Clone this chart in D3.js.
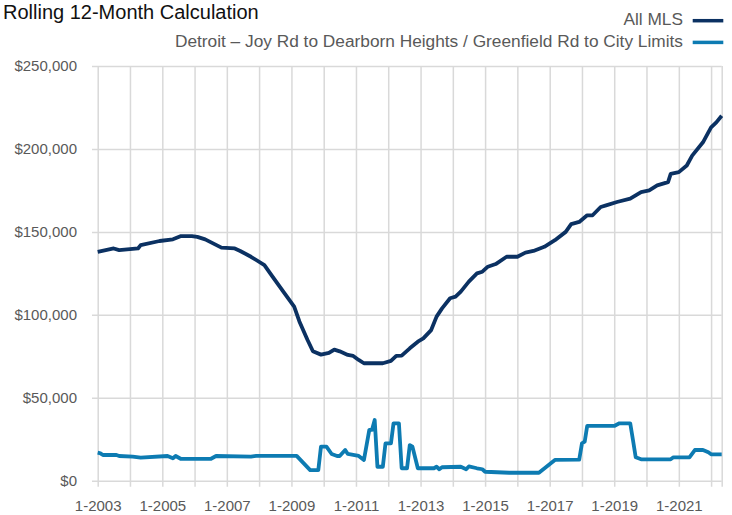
<!DOCTYPE html>
<html>
<head>
<meta charset="utf-8">
<script src="https://cdn.jsdelivr.net/npm/d3@7"></script>
<style>
  html, body { margin: 0; padding: 0; background: #fff; }
  svg { display: block; font-family: "Liberation Sans", Arial, sans-serif; }
</style>
</head>
<body>
<script>
// rolling 12-month median price
const seriesNames = ["All MLS", "Detroit – Joy Rd to Dearborn Heights / Greenfield Rd to City Limits"];

const mlsDates = ["2003-01","2003-07","2003-09","2004-04","2004-05","2004-12","2005-05","2005-08","2005-12","2006-02",
  "2006-05","2006-11","2007-04","2007-06","2007-10","2008-03","2008-06","2008-10","2009-02","2009-04",
  "2009-07","2009-09","2009-12","2010-03","2010-05","2010-07","2010-10","2010-12","2011-02","2011-04",
  "2011-11","2012-02","2012-04","2012-06","2012-09","2012-12","2013-02","2013-05","2013-07","2013-09",
  "2013-12","2014-02","2014-04","2014-07","2014-10","2014-12","2015-02","2015-05","2015-09","2016-01",
  "2016-04","2016-07","2016-11","2017-03","2017-07","2017-09","2017-12","2018-03","2018-05","2018-08",
  "2018-10","2019-02","2019-07","2019-11","2020-02","2020-05","2020-09","2020-10","2021-01","2021-04",
  "2021-06","2021-10","2021-12","2022-01","2022-03","2022-05"];
const mlsValues = [138000,140000,139000,140000,142000,144500,145500,147500,147500,147000,
  145500,140500,140000,138500,135000,130000,123000,114000,105000,96000,
  85000,78000,76000,77000,79000,78000,75800,75200,72800,70800,
  70800,72200,75200,75400,79800,83800,85800,90800,98900,103900,
  110000,111000,114000,120000,125000,126000,129000,130600,135000,135000,
  137500,138500,141000,145000,150000,154700,156000,160000,160000,165000,
  166000,168000,170000,174000,175000,178000,180000,185000,186000,190000,
  196000,204000,210000,213000,216000,220000];

const detroitDates = ["2003-01","2003-02","2003-03","2003-08","2003-09","2004-02","2004-05","2005-03","2005-05","2005-06",
  "2005-08","2006-07","2006-09","2007-10","2007-12","2009-03","2009-08","2009-11","2009-12","2010-02",
  "2010-04","2010-06","2010-07","2010-09","2010-10","2011-02","2011-04","2011-06","2011-07","2011-08",
  "2011-09","2011-11","2011-12","2012-02","2012-03","2012-05","2012-06","2012-08","2012-09","2012-10",
  "2012-12","2013-06","2013-07","2013-08","2013-09","2014-04","2014-06","2014-07","2014-10","2014-12",
  "2015-01","2015-10","2016-09","2017-03","2017-12","2018-01","2018-02","2018-03","2019-01","2019-03",
  "2019-07","2019-08","2019-09","2019-11","2020-10","2020-11","2021-05","2021-07","2021-10","2021-12",
  "2022-01","2022-05"];
const detroitValues = [16900,16500,15500,15500,14900,14500,13900,14900,13500,14900,
  13100,13100,14900,14500,15000,15000,6400,6400,20500,20500,
  16100,14900,14900,18500,16100,14900,12500,30600,30600,36600,
  8400,8400,22500,22500,34600,34600,7500,7500,21500,20500,
  7500,7500,8400,6900,8100,8400,6900,8600,7500,6900,
  5400,4800,4800,12500,12700,22500,23500,33000,33000,34600,
  34600,24500,14100,12900,12900,14100,14100,18500,18500,17100,
  15900,15900];

const yTicks = [0, 50000, 100000, 150000, 200000, 250000];
const gridYears = d3.range(2003, 2023);
const labelYears = [2003, 2005, 2007, 2009, 2011, 2013, 2015, 2017, 2019, 2021];
const endMonth = "2022-05";

const width = 732, height = 515;
const plotLeft = 97.7, plotRight = 721.7, plotTop = 66, plotBottom = 480.7;
const darkBlue = "#0b3162", lightBlue = "#0d7bb2", gridColor = "#d9d9d9", textColor = "#595959";

const parse = d3.timeParse("%Y-%m");
const mls = mlsDates.map((d, i) => ({ date: parse(d), value: mlsValues[i] }));
const detroit = detroitDates.map((d, i) => ({ date: parse(d), value: detroitValues[i] }));

const x = d3.scaleTime().domain([parse("2003-01"), parse(endMonth)]).range([plotLeft, plotRight]);
const y = d3.scaleLinear().domain([0, 250000]).range([plotBottom, plotTop]);

const svg = d3.select("body").append("svg")
  .attr("width", width)
  .attr("height", height);

// y grid + labels
const yAxis = svg.append("g")
  .attr("transform", "translate(92,0)")
  .call(d3.axisLeft(y).tickValues(yTicks).tickSize(-(plotRight - 92)).tickPadding(15)
    .tickFormat(d => "$" + d3.format(",")(d)));
yAxis.select(".domain").remove();
yAxis.selectAll("line").attr("stroke", gridColor).attr("stroke-width", 1.5);
yAxis.selectAll("text").attr("fill", textColor).attr("font-size", 15);

// x grid (one line per year) + labels every second year
const xTickDates = gridYears.map(yr => new Date(yr, 0, 1)).concat([parse(endMonth)]);
const xAxis = svg.append("g")
  .attr("transform", `translate(0,${plotBottom + 6})`)
  .call(d3.axisBottom(x).tickValues(xTickDates).tickSize(-(plotBottom + 6 - plotTop)).tickPadding(13.5)
    .tickFormat(d => (d.getMonth() === 0 && labelYears.includes(d.getFullYear())) ? "1-" + d.getFullYear() : ""));
xAxis.select(".domain").remove();
xAxis.selectAll("line").attr("stroke", gridColor).attr("stroke-width", 1.5);
xAxis.selectAll("text").attr("fill", textColor).attr("font-size", 15);

// lines
const line = d3.line().x(d => x(d.date)).y(d => y(d.value));

svg.append("path")
  .datum(detroit)
  .attr("fill", "none")
  .attr("stroke", lightBlue)
  .attr("stroke-width", 3.8)
  .attr("stroke-linejoin", "round")
  .attr("d", line);

svg.append("path")
  .datum(mls)
  .attr("fill", "none")
  .attr("stroke", darkBlue)
  .attr("stroke-width", 3.8)
  .attr("stroke-linejoin", "round")
  .attr("d", line);

// title
svg.append("text")
  .attr("x", 3)
  .attr("y", 19)
  .attr("font-size", 20)
  .attr("fill", "#111")
  .text("Rolling 12-Month Calculation");

// legend
const legend = svg.selectAll(".legend")
  .data([{ name: seriesNames[0], color: darkBlue, y: 25 }, { name: seriesNames[1], color: lightBlue, y: 46.7 }])
  .enter().append("g")
  .attr("class", "legend");

legend.append("text")
  .attr("x", 683)
  .attr("y", d => d.y)
  .attr("text-anchor", "end")
  .attr("font-size", 17.3)
  .attr("fill", textColor)
  .text(d => d.name);

legend.append("line")
  .attr("x1", 692.7)
  .attr("x2", 723.3)
  .attr("y1", d => d.y - 4.3)
  .attr("y2", d => d.y - 4.3)
  .attr("stroke", d => d.color)
  .attr("stroke-width", 3.5);
</script>
</body>
</html>
